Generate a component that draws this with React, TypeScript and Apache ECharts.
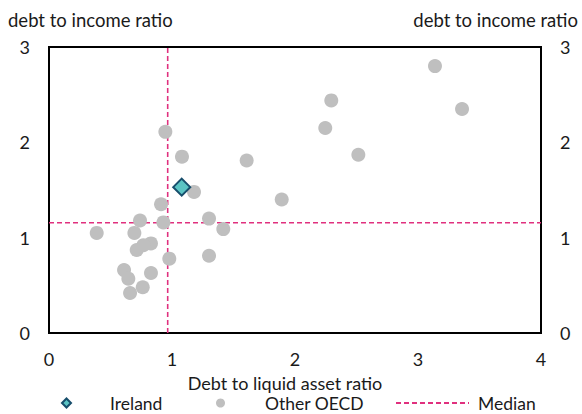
import React, { useEffect, useRef } from "react";
import * as echarts from "echarts";

const otherX = [0.946, 1.081, 1.607, 1.179, 1.892, 0.911, 0.74, 0.93, 1.301, 0.388, 0.694, 1.417, 0.829, 0.767, 0.713, 0.978, 1.301, 0.61, 0.645, 0.829, 0.762, 0.659, 3.138, 2.295, 3.358, 2.246, 2.515];
const otherY = [2.11, 1.85, 1.81, 1.48, 1.4, 1.35, 1.18, 1.16, 1.2, 1.05, 1.05, 1.09, 0.94, 0.92, 0.87, 0.78, 0.81, 0.66, 0.57, 0.63, 0.48, 0.42, 2.8, 2.44, 2.35, 2.15, 1.87];
const irelandX = [1.079];
const irelandY = [1.53];
const medianX = 0.965;
const medianY = 1.157;
const xTicks = [0, 1, 2, 3, 4];
const yTicks = [0, 1, 2, 3];

const FONT = "Lato";
const TEXT = "#1a1a1a";

export default function App() {
  const ref = useRef<HTMLDivElement>(null);
  useEffect(() => {
    if (!ref.current) return;
    const chart = echarts.init(ref.current, null, { renderer: "svg" });
    const labelStyle = { fontFamily: FONT, fontSize: 18, color: TEXT };
    const yAxisCommon = {
      type: "value",
      min: yTicks[0],
      max: yTicks[yTicks.length - 1],
      interval: 1,
      axisLine: { show: false },
      axisTick: { show: false },
      splitLine: { show: false },
      axisLabel: { ...labelStyle, margin: 19 },
    };
    const legendCommon = {
      top: 393,
      itemHeight: 9,
      padding: 0,
      textStyle: { fontFamily: FONT, fontSize: 17.5, color: TEXT, lineHeight: 20 },
      selectedMode: false,
    };
    chart.setOption({
      animation: false,
      backgroundColor: "#fff",
      grid: {
        left: 49,
        right: 41,
        top: 47,
        bottom: 81,
        show: true,
        borderColor: "#000",
        borderWidth: 2,
        containLabel: false,
      },
      xAxis: {
        type: "value",
        min: xTicks[0],
        max: xTicks[xTicks.length - 1],
        interval: 1,
        axisLine: { show: false },
        axisTick: { show: false },
        splitLine: { show: false },
        axisLabel: { ...labelStyle, margin: 17 },
        name: "Debt to liquid asset ratio",
        nameLocation: "middle",
        nameGap: 36,
        nameTextStyle: { fontFamily: FONT, fontSize: 18, color: TEXT, lineHeight: 20, padding: [0, 20, 0, 0] },
      },
      yAxis: [
        { ...yAxisCommon, position: "left" },
        { ...yAxisCommon, position: "right" },
      ],
      legend: [
        {
          ...legendCommon,
          left: 61,
          itemWidth: 9,
          data: [{ name: "Ireland", textStyle: { padding: [0, 0, 0, 34] } }],
        },
        {
          ...legendCommon,
          left: 216,
          itemWidth: 9,
          data: [{ name: "Other OECD", textStyle: { padding: [0, 0, 0, 35] } }],
        },
        {
          ...legendCommon,
          left: 395,
          itemWidth: 73,
          data: [{ name: "Median", itemStyle: { opacity: 0 }, textStyle: { padding: [0, 0, 0, 4] } }],
        },
      ],
      graphic: [
        {
          type: "text",
          left: 8,
          top: 10,
          style: { text: "debt to income ratio", fontFamily: FONT, fontSize: 18.5, fill: TEXT },
        },
        {
          type: "text",
          right: 4,
          top: 10,
          style: { text: "debt to income ratio", fontFamily: FONT, fontSize: 18.5, fill: TEXT },
        },
      ],
      series: [
        {
          name: "Median",
          type: "line",
          symbol: "none",
          data: [[xTicks[0], medianY], [xTicks[xTicks.length - 1], medianY]],
          lineStyle: { color: "#E0307E", width: 1.6, type: [5, 3] },
          itemStyle: { color: "#E0307E" },
          z: 1,
        },
        {
          name: "Median",
          type: "line",
          symbol: "none",
          data: [[medianX, yTicks[0]], [medianX, yTicks[yTicks.length - 1]]],
          lineStyle: { color: "#E0307E", width: 1.6, type: [5, 3] },
          itemStyle: { color: "#E0307E" },
          z: 1,
        },
        {
          name: "Other OECD",
          type: "scatter",
          symbol: "circle",
          symbolSize: 14,
          data: otherX.map((x, i) => [x, otherY[i]]),
          itemStyle: { color: "#BFBFBF", opacity: 1 },
          z: 2,
        },
        {
          name: "Ireland",
          type: "scatter",
          symbol: "diamond",
          symbolSize: 17,
          data: irelandX.map((x, i) => [x, irelandY[i]]),
          itemStyle: { color: "#5BC4C4", borderColor: "#174E6C", borderWidth: 2, opacity: 1 },
          z: 3,
        },
      ],
    });
    return () => chart.dispose();
  }, []);
  return <div ref={ref} style={{ width: 582, height: 414, position: "absolute", left: 0, top: 0 }} />;
}
